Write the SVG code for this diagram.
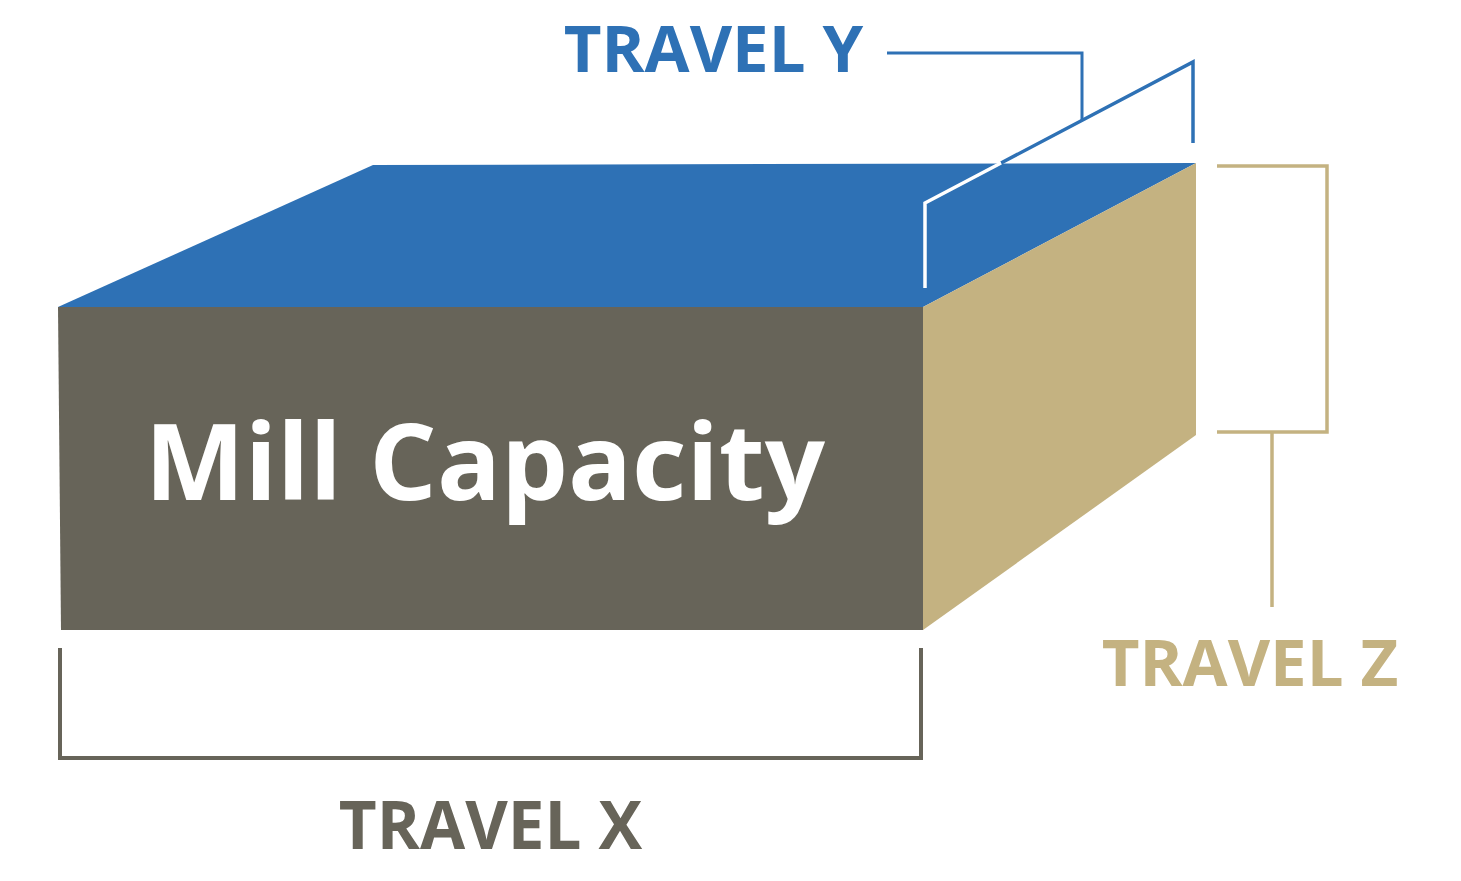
<svg xmlns="http://www.w3.org/2000/svg" width="1461" height="881" viewBox="0 0 1461 881">
<style>
.lbl{font-family:"Open Sans","Liberation Sans",sans-serif;font-weight:700}
.br{fill:none;stroke-linecap:butt;stroke-linejoin:miter}
</style>
<rect width="1461" height="881" fill="#ffffff"/>
<g id="box">
<polygon points="58,307 373,165 1196,163 923,307" fill="#2E71B5"/>
<polygon points="923,307 1196,163 1196,435 923,630" fill="#C4B281"/>
<polygon points="58,307 923,307 923,630 61,630" fill="#676459"/>
<text class="lbl" x="485" y="500" font-size="106" fill="#ffffff" text-anchor="middle">Mill Capacity</text>
</g>
<g id="connectors">
<polyline class="br" points="887,53 1082,53 1082,120" stroke="#2E71B5" stroke-width="3"/>
<polyline class="br" points="1001,163 1193,62 1193,143" stroke="#2E71B5" stroke-width="3.5"/>
<polyline class="br" points="1001,163 925,203 925,288" stroke="#ffffff" stroke-width="3.5"/>
<polyline class="br" points="1217,166 1327,166 1327,432 1217,432" stroke="#C4B281" stroke-width="3.5"/>
<line class="br" x1="1272" y1="432" x2="1272" y2="607" stroke="#C4B281" stroke-width="3.5"/>
<polyline class="br" points="60,648 60,758 921,758 921,648" stroke="#676459" stroke-width="4"/>
</g>
<g id="travel-y"><text class="lbl" x="713.5" y="72" font-size="65.3" fill="#2E71B5" text-anchor="middle">TRAVEL Y</text></g>
<g id="travel-z"><text class="lbl" x="1250" y="686" font-size="65.3" fill="#C4B281" text-anchor="middle">TRAVEL Z</text></g>
<g id="travel-x"><text class="lbl" x="490.5" y="849" font-size="65.5" fill="#676459" text-anchor="middle">TRAVEL X</text></g>
</svg>
